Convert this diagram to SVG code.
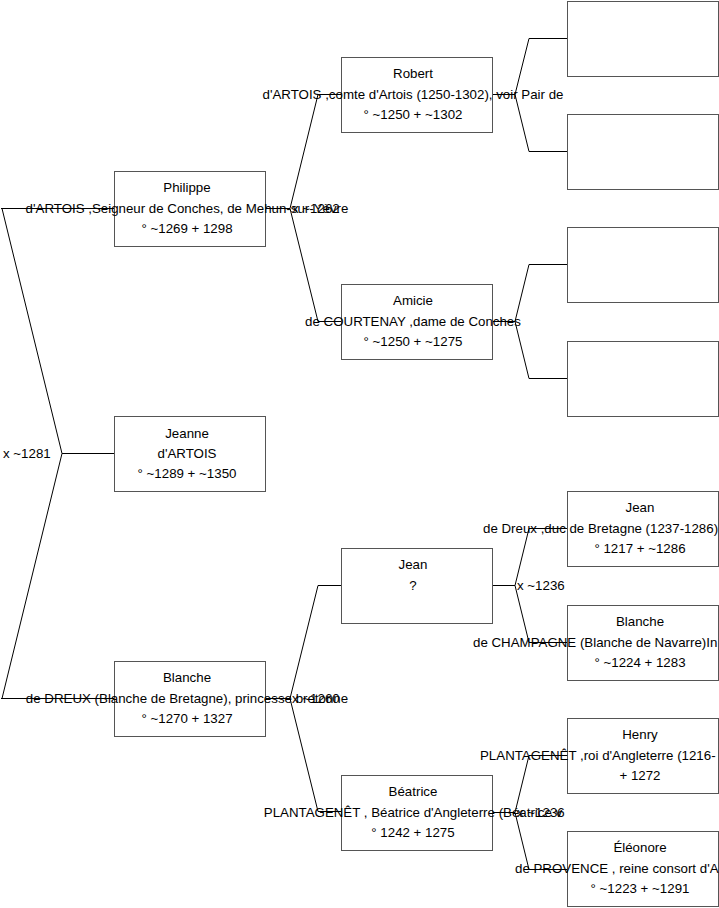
<svg xmlns="http://www.w3.org/2000/svg" width="719" height="908" viewBox="0 0 719 908">
<style>
.box{fill:#fff;stroke:#555;stroke-width:1}
.ln{fill:none;stroke:#000;stroke-width:1}
text{font-family:"Liberation Sans",Arial,sans-serif;font-size:13.3px;fill:#000}
.c{text-anchor:middle}
</style>
<rect width="719" height="908" fill="#fff"/>
<g id="connectors">
<path class="ln" d="M1,208.5 H114 M2,208.5 L62,453.5 L2,698.5 M1,698.5 H114 M62,453.5 H114"/>
<path class="ln" d="M265,208.5 H290 M341,94.5 H318 L290,208.5 L318,321.5 H341"/>
<path class="ln" d="M265,698.5 H290 M341,585.5 H318 L290,698.5 L318,811.5 H341"/>
<path class="ln" d="M492,94.5 H515 M567,38.5 H529 L515,94.5 L529,151.5 H567"/>
<path class="ln" d="M492,321.5 H515 M567,264.5 H529 L515,321.5 L529,378.5 H567"/>
<path class="ln" d="M492,585.5 H515 M567,528.5 H529 L515,585.5 L529,642.5 H567"/>
<path class="ln" d="M492,812.5 H515 M567,755.5 H529 L515,812.5 L529,869.5 H567"/>
<text x="3" y="457.5">x ~1281</text>
<text x="292" y="212.5">x ~1262</text>
<text x="292" y="702.5">x ~1260</text>
<text x="517" y="589.5">x ~1236</text>
<text x="517" y="816.5">x ~1236</text>
</g>
<g id="philippe">
<rect class="box" x="114.5" y="171.5" width="151" height="75"/>
<text class="c" x="187" y="191.5">Philippe</text>
<text class="c" x="187" y="212.5">d'ARTOIS ,Seigneur de Conches, de Mehun-sur-Yèvre</text>
<text class="c" x="187" y="232.5">° ~1269 + 1298</text>
</g>
<g id="jeanne">
<rect class="box" x="114.5" y="416.5" width="151" height="75"/>
<text class="c" x="187" y="437.5">Jeanne</text>
<text class="c" x="187" y="457.5">d'ARTOIS</text>
<text class="c" x="187" y="477.5">° ~1289 + ~1350</text>
</g>
<g id="blanche-dreux">
<rect class="box" x="114.5" y="661.5" width="151" height="75"/>
<text class="c" x="187" y="682">Blanche</text>
<text class="c" x="187" y="702.5">de DREUX (Blanche de Bretagne), princesse bretonne</text>
<text class="c" x="187" y="722.5">° ~1270 + 1327</text>
</g>
<g id="robert">
<rect class="box" x="341.5" y="57.5" width="151" height="75"/>
<text class="c" x="413" y="78">Robert</text>
<text class="c" x="413" y="98.5">d'ARTOIS ,comte d'Artois (1250-1302), voir Pair de</text>
<text class="c" x="413" y="118.5">° ~1250 + ~1302</text>
</g>
<g id="amicie">
<rect class="box" x="341.5" y="284.5" width="151" height="75"/>
<text class="c" x="413" y="305">Amicie</text>
<text class="c" x="413" y="325.5">de COURTENAY ,dame de Conches</text>
<text class="c" x="413" y="345.5">° ~1250 + ~1275</text>
</g>
<g id="jean">
<rect class="box" x="341.5" y="548.5" width="151" height="75"/>
<text class="c" x="413" y="569">Jean</text>
<text class="c" x="413" y="589.5">?</text>
</g>
<g id="beatrice">
<rect class="box" x="341.5" y="775.5" width="151" height="75"/>
<text class="c" x="413" y="796">Béatrice</text>
<text class="c" x="413" y="816.5">PLANTAGENÊT , Béatrice d'Angleterre (Béatrice v</text>
<text class="c" x="413" y="836.5">° 1242 + 1275</text>
</g>
<g id="p1"><rect class="box" x="567.5" y="1.5" width="151" height="75"/></g>
<g id="p2"><rect class="box" x="567.5" y="114.5" width="151" height="75"/></g>
<g id="p3"><rect class="box" x="567.5" y="227.5" width="151" height="75"/></g>
<g id="p4"><rect class="box" x="567.5" y="341.5" width="151" height="75"/></g>
<g id="jean-dreux">
<rect class="box" x="567.5" y="491.5" width="151" height="75"/>
<text class="c" x="640" y="512">Jean</text>
<text x="483" y="532.5">de Dreux ,duc de Bretagne (1237-1286)</text>
<text class="c" x="640" y="552.5">° 1217 + ~1286</text>
</g>
<g id="blanche-champagne">
<rect class="box" x="567.5" y="605.5" width="151" height="75"/>
<text class="c" x="640" y="626">Blanche</text>
<text x="473" y="646.5">de CHAMPAGNE (Blanche de Navarre)In</text>
<text class="c" x="640" y="666.5">° ~1224 + 1283</text>
</g>
<g id="henry">
<rect class="box" x="567.5" y="718.5" width="151" height="75"/>
<text class="c" x="640" y="739">Henry</text>
<text x="480" y="759.5">PLANTAGENÊT ,roi d'Angleterre (1216-</text>
<text class="c" x="640" y="779.5">+ 1272</text>
</g>
<g id="eleonore">
<rect class="box" x="567.5" y="831.5" width="151" height="75"/>
<text class="c" x="640" y="852">Éléonore</text>
<text x="515" y="872.5">de PROVENCE , reine consort d'A</text>
<text class="c" x="640" y="892.5">° ~1223 + ~1291</text>
</g>
</svg>
